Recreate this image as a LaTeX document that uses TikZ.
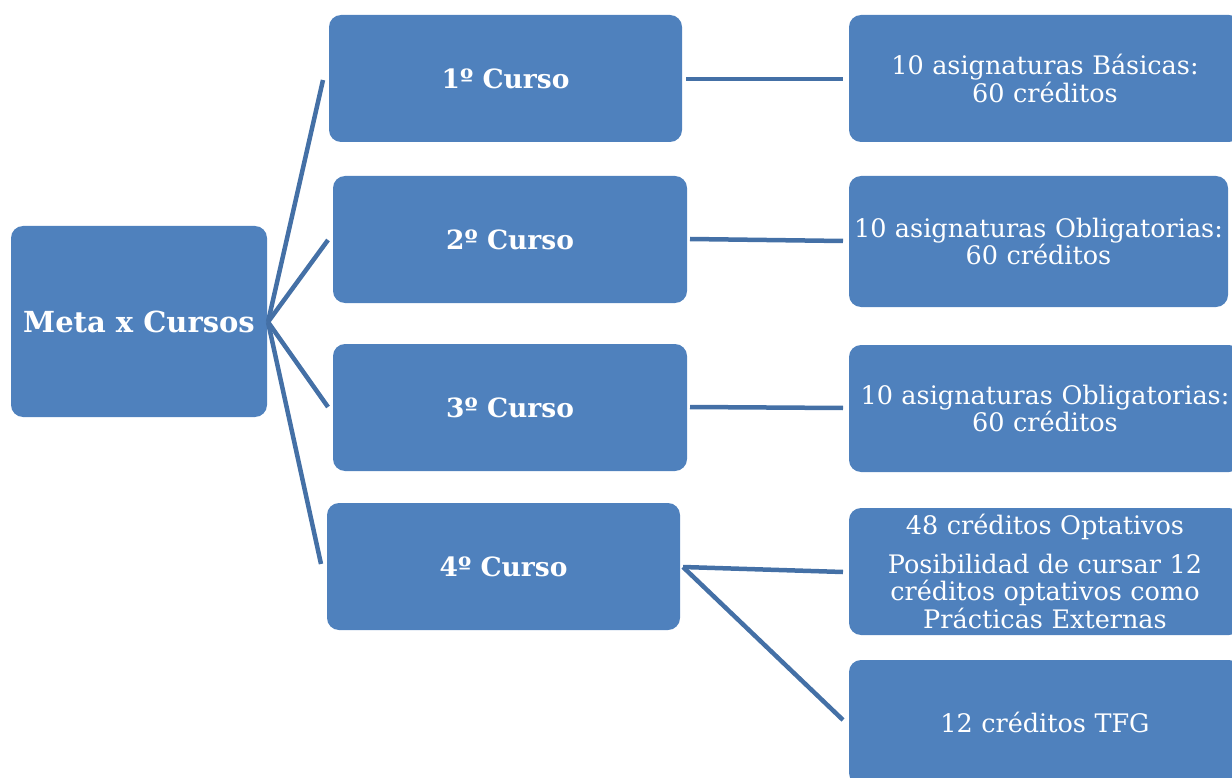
\documentclass[tikz,border=0pt]{standalone}
\usepackage{fontspec}
\setmainfont{DejaVu Serif}
\definecolor{boxblue}{HTML}{4F81BD}
\definecolor{lineblue}{HTML}{4470A6}
\begin{document}
\begin{tikzpicture}[x=1pt,y=-1pt,
  box/.style={fill=boxblue, draw=none, rounded corners=12pt, text=white, inner sep=0pt, align=center},
  mainbox/.style={box, font=\bfseries\fontsize{29}{32}\selectfont},
  leftbox/.style={box, minimum width=353pt, minimum height=127pt, font=\bfseries\fontsize{26.5}{30}\selectfont},
  rightbox/.style={box, minimum width=392pt, minimum height=127pt, text width=390pt, font=\fontsize{25.5}{27.5}\selectfont},
  conn/.style={draw=lineblue, line width=4.5pt}]
\useasboundingbox (0,0) rectangle (1232,778);
\node[mainbox, minimum width=256pt, minimum height=191pt] (meta) at (139,321.5) {Meta x Cursos};
\node[leftbox] (c1) at (505.5,78.5) {1º Curso};
\node[leftbox, minimum width=354pt] (c2) at (510,239.5) {2º Curso};
\node[leftbox, minimum width=354pt] (c3) at (510,407.5) {3º Curso};
\node[leftbox] (c4) at (503.5,566.5) {4º Curso};
\node[rightbox] (r1) at (1045,78.5) {10 asignaturas Básicas:\\60 créditos};
\node[rightbox, minimum width=379pt, minimum height=131pt, text width=379pt] (r2) at (1038.5,241.5) {10 asignaturas Obligatorias:\\60 créditos};
\node[rightbox] (r3) at (1045,408.5) {10 asignaturas Obligatorias:\\60 créditos};
\node[rightbox] (r4) at (1045,571.5) {48 créditos Optativos\\[11pt]Posibilidad de cursar 12\\créditos optativos como\\Prácticas Externas};
\node[rightbox, minimum height=125pt] (r5) at (1045,722.5) {12 créditos TFG};
% connector end points
\coordinate (m0) at (268,322);
\coordinate (e1) at (323,80);
\coordinate (e2) at (328,240);
\coordinate (e3) at (328,407);
\coordinate (e4) at (321,564);
\coordinate (s1) at (686,79);
\coordinate (t1) at (843,79);
\coordinate (s2) at (690,239);
\coordinate (t2) at (843,241);
\coordinate (s3) at (690,407);
\coordinate (t3) at (843,408);
\coordinate (s4) at (683,567);
\coordinate (t4) at (843,572);
\coordinate (t5) at (843,720);
\draw[conn] (m0) -- (e1);
\draw[conn] (m0) -- (e2);
\draw[conn] (m0) -- (e3);
\draw[conn] (m0) -- (e4);
\draw[conn] (s1) -- (t1);
\draw[conn] (s2) -- (t2);
\draw[conn] (s3) -- (t3);
\draw[conn] (s4) -- (t4);
\draw[conn] (s4) -- (t5);
\end{tikzpicture}
\end{document}
